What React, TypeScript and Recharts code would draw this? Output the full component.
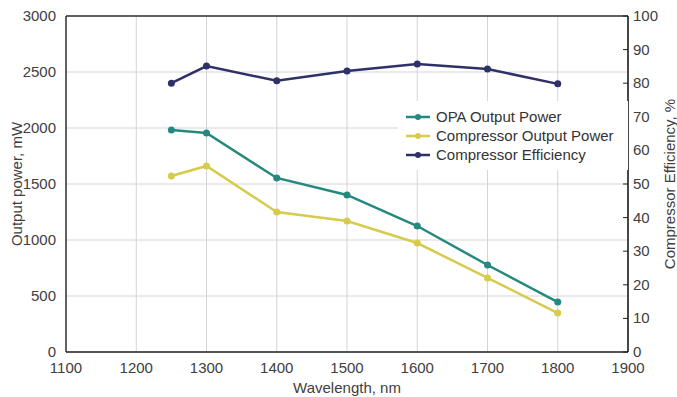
import React from 'react';
import {
  LineChart,
  Line,
  XAxis,
  YAxis,
  CartesianGrid,
  Legend,
  ReferenceLine,
} from 'recharts';

// Wavelength (nm) sampled points
const wavelengths = [1250, 1300, 1400, 1500, 1600, 1700, 1800];
// Power series (mW), left axis
const opaPower = [1982, 1955, 1554, 1402, 1125, 777, 446];
const compressorPower = [1571, 1661, 1250, 1170, 973, 661, 348];
// Efficiency (%), right axis
const compressorEfficiency = [80, 85.1, 80.7, 83.6, 85.7, 84.2, 79.8];

const xTicks = [1100, 1200, 1300, 1400, 1500, 1600, 1700, 1800, 1900];
const leftTicks = [0, 500, 1000, 1500, 2000, 2500, 3000];
const rightTicks = [0, 10, 20, 30, 40, 50, 60, 70, 80, 90, 100];

const COLORS = {
  opa: '#24897f',
  comp: '#d6cb4c',
  eff: '#2e3068',
};

const FONT = 'Arial, "Liberation Sans", sans-serif';
const TEXT = '#404040';

const data = wavelengths.map((w, i) => ({
  w,
  opa: opaPower[i],
  comp: compressorPower[i],
  eff: compressorEfficiency[i],
}));

const legendItems = [
  { label: 'OPA Output Power', color: COLORS.opa },
  { label: 'Compressor Output Power', color: COLORS.comp },
  { label: 'Compressor Efficiency', color: COLORS.eff },
];

function LegendBox() {
  return (
    <div style={{ background: '#fff', padding: '6px 6px 6px 8px', fontFamily: FONT }}>
      {legendItems.map((it) => (
        <div key={it.label} style={{ display: 'flex', alignItems: 'center', height: 19 }}>
          <svg width={26} height={10} style={{ marginRight: 4 }}>
            <line x1={0} y1={5} x2={24} y2={5} stroke={it.color} strokeWidth={2.5} />
            <circle cx={12} cy={5} r={3} fill={it.color} />
          </svg>
          <span style={{ fontSize: 15, color: '#333', whiteSpace: 'nowrap' }}>{it.label}</span>
        </div>
      ))}
    </div>
  );
}

// right axis tick: small inward tick mark plus label
function RightTick(props: any) {
  const { x, y, payload } = props;
  return (
    <g>
      <line x1={x - 10} y1={y} x2={x - 5} y2={y} stroke="#222" strokeWidth={1} />
      <text x={x} y={y} dy={5} fill={TEXT} fontSize={15} fontFamily={FONT} textAnchor="start">
        {payload.value}
      </text>
    </g>
  );
}

export default function App() {
  return (
    <div style={{ position: 'absolute', left: 0, top: 0, background: '#fff' }}>
      <LineChart
        width={677}
        height={397}
        data={data}
        margin={{ top: 16, right: 0, left: 0, bottom: 0 }}
      >
        <CartesianGrid stroke="#d4d4d4" strokeWidth={1} yAxisId="left" />
        <XAxis
          dataKey="w"
          type="number"
          domain={[1100, 1900]}
          ticks={xTicks}
          height={45}
          tickLine={false}
          axisLine={{ stroke: '#222', strokeWidth: 1.5 }}
          tick={{ fill: TEXT, fontSize: 15, fontFamily: FONT }}
          tickMargin={4}
          label={{
            value: 'Wavelength, nm',
            position: 'insideBottom',
            offset: 4,
            fill: TEXT,
            fontSize: 15,
            fontFamily: FONT,
          }}
        />
        <YAxis
          yAxisId="left"
          domain={[0, 3000]}
          ticks={leftTicks}
          width={66}
          tickLine={false}
          axisLine={{ stroke: '#333', strokeWidth: 1.5 }}
          tick={{ fill: TEXT, fontSize: 15, fontFamily: FONT }}
          tickMargin={4}
          label={{
            value: 'Output power, mW',
            angle: -90,
            position: 'insideLeft',
            offset: 17,
            style: { textAnchor: 'middle', fill: TEXT, fontSize: 15, fontFamily: FONT },
          }}
        />
        <YAxis
          yAxisId="right"
          orientation="right"
          domain={[0, 100]}
          ticks={rightTicks}
          width={49}
          tickLine={false}
          tickSize={0}
          tickMargin={5}
          axisLine={{ stroke: '#111', strokeWidth: 1.5 }}
          tick={<RightTick />}
          label={{
            value: 'Compressor Efficiency, %',
            angle: -90,
            position: 'insideRight',
            offset: 7,
            style: { textAnchor: 'middle', fill: TEXT, fontSize: 15, fontFamily: FONT },
          }}
        />
        <ReferenceLine yAxisId="left" y={3000} stroke="#333" strokeWidth={1.5} />
        <Legend
          layout="vertical"
          verticalAlign="middle"
          align="center"
          content={<LegendBox />}
          wrapperStyle={{ left: 398, top: 101, width: 230 }}
        />
        <Line
          yAxisId="left"
          dataKey="opa"
          stroke={COLORS.opa}
          strokeWidth={2.5}
          dot={{ r: 3.5, fill: COLORS.opa, stroke: COLORS.opa, strokeWidth: 0 }}
          isAnimationActive={false}
        />
        <Line
          yAxisId="left"
          dataKey="comp"
          stroke={COLORS.comp}
          strokeWidth={2.5}
          dot={{ r: 3.5, fill: COLORS.comp, stroke: COLORS.comp, strokeWidth: 0 }}
          isAnimationActive={false}
        />
        <Line
          yAxisId="right"
          dataKey="eff"
          stroke={COLORS.eff}
          strokeWidth={2.5}
          dot={{ r: 3.5, fill: COLORS.eff, stroke: COLORS.eff, strokeWidth: 0 }}
          isAnimationActive={false}
        />
      </LineChart>
    </div>
  );
}
